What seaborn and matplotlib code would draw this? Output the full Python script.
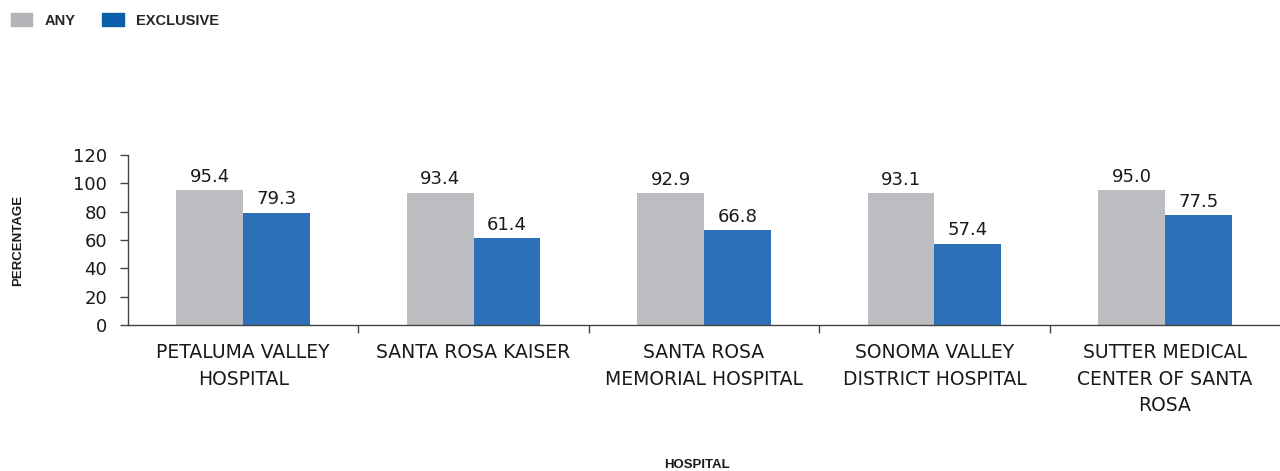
import matplotlib
matplotlib.use("Agg")
import matplotlib.pyplot as plt
import matplotlib.patches as mpatches
import seaborn as sns
import pandas as pd

hospitals = ["PETALUMA VALLEY\nHOSPITAL", "SANTA ROSA KAISER",
             "SANTA ROSA\nMEMORIAL HOSPITAL", "SONOMA VALLEY\nDISTRICT HOSPITAL",
             "SUTTER MEDICAL\nCENTER OF SANTA\nROSA"]
any_pct = [95.4, 93.4, 92.9, 93.1, 95.0]
exclusive_pct = [79.3, 61.4, 66.8, 57.4, 77.5]
series = ["ANY", "EXCLUSIVE"]

df = pd.DataFrame({
    "Hospital": hospitals * 2,
    "Type": [series[0]] * len(hospitals) + [series[1]] * len(hospitals),
    "Percentage": any_pct + exclusive_pct,
})

sns.set_style("white")
plt.rcParams["font.family"] = ["DejaVu Sans"]

bar_colors = {"ANY": "#bcbdc0", "EXCLUSIVE": "#2e70b7"}
legend_colors = {"ANY": "#b3b4b8", "EXCLUSIVE": "#0c5dac"}

fig = plt.figure(figsize=(12.8, 4.71), dpi=100)
ax = fig.add_axes([0.1, 0.31, 0.9, 0.361])

sns.barplot(data=df, x="Hospital", y="Percentage", hue="Type", palette=bar_colors,
            width=0.58, gap=0, saturation=1, linewidth=0, ax=ax, legend=False)

for cont in ax.containers:
    ax.bar_label(cont, fmt="%.1f", padding=3, fontsize=13, color="#1a1a1a")

ax.set_ylim(0, 120)
ax.set_yticks(range(0, 121, 20))
ax.set_xlim(-0.5, len(hospitals) - 0.5)
ax.tick_params(axis="y", labelsize=13, length=6, width=1, color="#444444", direction="out",
               left=True, labelcolor="#1a1a1a", pad=9)
ax.tick_params(axis="x", which="major", labelsize=13.5, length=0, pad=13, labelcolor="#1a1a1a")
ax.set_xticks([i + 0.5 for i in range(len(hospitals) - 1)], minor=True)
ax.tick_params(axis="x", which="minor", length=6, width=1, color="#444444", bottom=True)
for lbl in ax.get_xticklabels():
    lbl.set_linespacing(1.5)
    lbl.set_verticalalignment("top")

sns.despine(ax=ax)
for s in ["left", "bottom"]:
    ax.spines[s].set_color("#444444")
    ax.spines[s].set_linewidth(1)

ax.set_ylabel("PERCENTAGE", fontsize=9.5, fontweight="bold", family="Liberation Sans", color="#1a1a1a")
ax.yaxis.set_label_coords(-0.09, 0.5)
ax.set_xlabel("HOSPITAL", fontsize=9.5, fontweight="bold", family="Liberation Sans", color="#1a1a1a")
ax.xaxis.set_label_coords(0.494, -0.79)

handles = [mpatches.Patch(color=legend_colors[s], label=s) for s in series]
fig.legend(handles=handles, loc="upper left", bbox_to_anchor=(-0.002, 1.0), ncol=2, frameon=False,
           prop={"family": "Liberation Sans", "weight": "bold", "size": 10.5},
           handlelength=1.5, handleheight=1.0, columnspacing=1.8, handletextpad=0.85)

fig.savefig("out.png", dpi=100)
